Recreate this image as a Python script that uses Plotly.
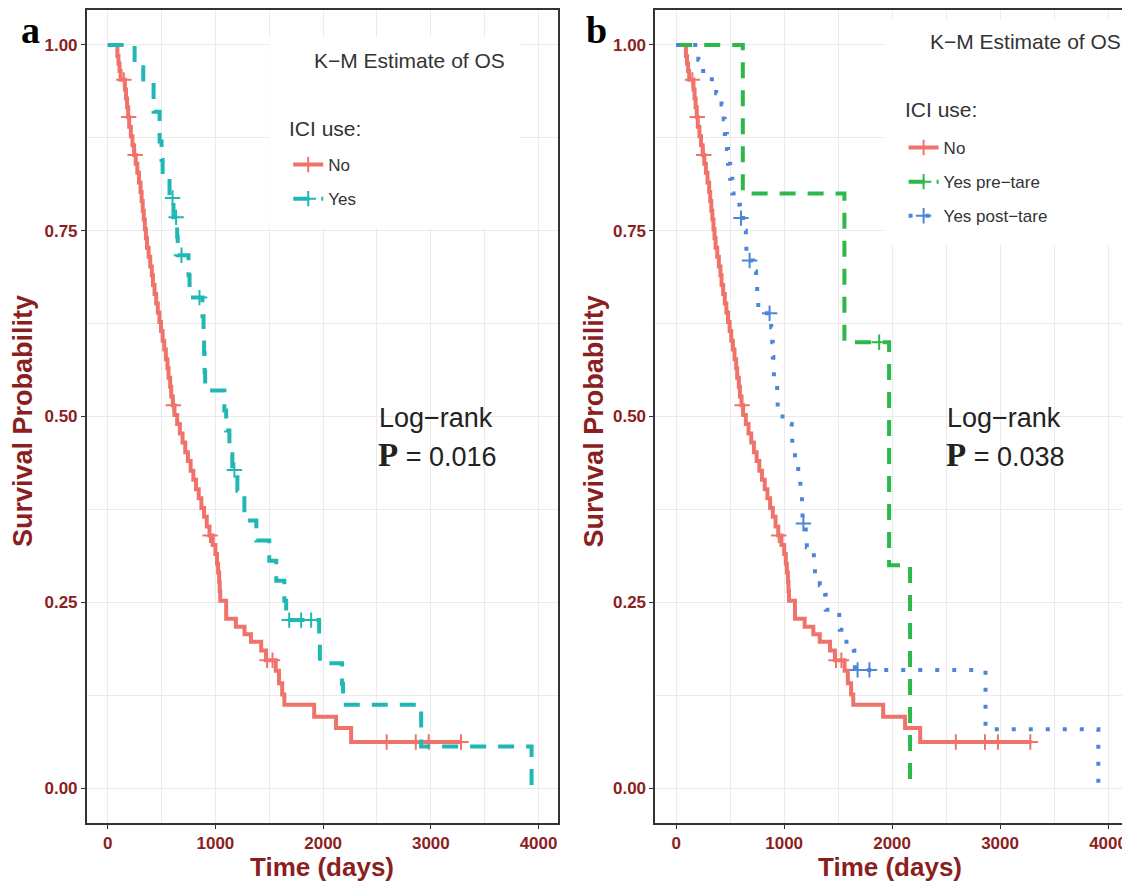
import plotly.graph_objects as go

# ---- data (time in days, survival probability) ----
no_time = [0, 90, 100, 110, 120, 160, 170, 180, 190, 200, 215, 230, 245, 260, 275, 290, 305, 315, 325, 335,
           345, 355, 365, 380, 395, 410, 420, 435, 450, 465, 480, 495, 510, 525, 540, 555, 565, 580, 590, 605,
           620, 645, 670, 695, 720, 745, 770, 795, 820, 845, 870, 895, 920, 945, 975, 1000, 1015, 1025, 1035, 1040,
           1045, 1100, 1190, 1270, 1330, 1425, 1470, 1560, 1590, 1620, 1640, 1917, 2120, 2260, 3290]
no_surv = [1.0, 0.985, 0.975, 0.965, 0.953, 0.94, 0.928, 0.916, 0.903, 0.89, 0.877, 0.865, 0.852, 0.84, 0.828,
           0.815, 0.802, 0.79, 0.777, 0.765, 0.752, 0.74, 0.727, 0.715, 0.702, 0.69, 0.677, 0.665, 0.652, 0.64,
           0.627, 0.615, 0.602, 0.59, 0.577, 0.565, 0.552, 0.54, 0.527, 0.515, 0.502, 0.49, 0.477, 0.465, 0.452,
           0.44, 0.427, 0.415, 0.402, 0.39, 0.377, 0.365, 0.352, 0.34, 0.327, 0.315, 0.302, 0.29, 0.277, 0.265,
           0.252, 0.228, 0.217, 0.207, 0.197, 0.185, 0.172, 0.158, 0.141, 0.126, 0.112, 0.096, 0.081, 0.062, 0.062]
no_cens_t = [150, 195, 255, 610, 950, 1480, 1530, 2590, 2860, 2980, 3280]
no_cens_s = [0.953, 0.903, 0.852, 0.515, 0.34, 0.172, 0.172, 0.062, 0.062, 0.062, 0.062]

yes_time = [0, 250, 330, 426, 482, 500, 510, 574, 611, 645, 650, 750, 760, 880, 890, 895, 900, 905, 1083, 1100,
            1130, 1157, 1204, 1269, 1380, 1500, 1565, 1640, 1657, 1963, 1970, 2176, 2185, 2910, 3935]
yes_surv = [1.0, 0.97, 0.946, 0.91, 0.87, 0.845, 0.82, 0.794, 0.768, 0.742, 0.717, 0.69, 0.66, 0.635, 0.61,
            0.585, 0.56, 0.535, 0.508, 0.481, 0.455, 0.428, 0.40, 0.36, 0.333, 0.306, 0.279, 0.252, 0.226,
            0.197, 0.168, 0.14, 0.112, 0.056, 0.0]
yes_cens_t = [602, 635, 685, 852, 1176, 1685, 1796, 1889]
yes_cens_s = [0.794, 0.768, 0.717, 0.66, 0.428, 0.226, 0.226, 0.226]

pre_time = [0, 617, 1558, 1972, 2166]
pre_surv = [1.0, 0.8, 0.6, 0.3, 0.0]
pre_cens_t = [1880]
pre_cens_s = [0.6]

post_time = [0, 205, 250, 330, 370, 420, 440, 450, 470, 480, 500, 520, 560, 590, 640, 645, 650, 710, 740, 750,
             760, 880, 890, 895, 900, 905, 935, 940, 985, 1070, 1075, 1100, 1130, 1150, 1165, 1170, 1200, 1210,
             1275, 1285, 1330, 1380, 1385, 1510, 1515, 1555, 1645, 1650, 1655, 2865, 3910]
post_surv = [1.0, 0.98, 0.965, 0.95, 0.935, 0.92, 0.9, 0.88, 0.86, 0.84, 0.82, 0.80, 0.785, 0.767, 0.75, 0.73,
             0.71, 0.695, 0.68, 0.66, 0.639, 0.62, 0.60, 0.58, 0.56, 0.546, 0.526, 0.505, 0.49, 0.475, 0.459,
             0.441, 0.421, 0.40, 0.383, 0.356, 0.345, 0.324, 0.31, 0.289, 0.273, 0.26, 0.24, 0.225, 0.213,
             0.197, 0.185, 0.166, 0.159, 0.079, 0.0]
post_cens_t = [600, 680, 865, 1178, 1680, 1790]
post_cens_s = [0.767, 0.71, 0.639, 0.356, 0.159, 0.159]

x_ticks = [0, 1000, 2000, 3000, 4000]
y_ticks = [0.0, 0.25, 0.5, 0.75, 1.0]

RED = "#F0736B"
TEAL = "#1FB8B5"
GREEN = "#2DB84B"
BLUE = "#4C86D8"
MAROON = "#8B1F1F"
TXT = "#333333"

# page has an 8px body margin, so the figure is drawn 8px smaller and coordinates are shifted
OFF = 8
W, H = 1130 - OFF, 882 - OFF


def px(x):
    return (x - OFF) / W


def py(y):
    return 1 - (y - OFF) / H


fig = go.Figure()


def add_curve(t, s, ct, cs, name, color, dash, xa, ya, legend):
    fig.add_trace(go.Scatter(x=t, y=s, mode="lines", line=dict(color=color, width=4, dash=dash, shape="hv"),
                             xaxis=xa, yaxis=ya, showlegend=False, hoverinfo="skip"))
    fig.add_trace(go.Scatter(x=ct, y=cs, mode="markers", xaxis=xa, yaxis=ya, showlegend=False,
                             marker=dict(symbol="cross-thin", size=11, line=dict(width=2, color=color))))
    # legend key (line + censor mark)
    fig.add_trace(go.Scatter(x=[None], y=[None], mode="lines+markers", name=name, legend=legend,
                             legendgroup=name + legend, xaxis=xa, yaxis=ya,
                             line=dict(color=color, width=4, dash=dash),
                             marker=dict(symbol="cross-thin", size=11, line=dict(width=2, color=color))))


DASH = "16px,12px"
DOT = "4px,13px"

add_curve(no_time, no_surv, no_cens_t, no_cens_s, "No", RED, "solid", "x", "y", "legend")
add_curve(yes_time, yes_surv, yes_cens_t, yes_cens_s, "Yes", TEAL, DASH, "x", "y", "legend")
add_curve(no_time, no_surv, no_cens_t, no_cens_s, "No", RED, "solid", "x2", "y2", "legend2")
add_curve(pre_time, pre_surv, pre_cens_t, pre_cens_s, "Yes pre−tare", GREEN, DASH, "x2", "y2", "legend2")
add_curve(post_time, post_surv, post_cens_t, post_cens_s, "Yes post−tare", BLUE, DOT, "x2", "y2", "legend2")

tickfont = dict(family="Liberation Sans", size=17, color=MAROON, weight="bold")
grid = dict(showgrid=True, gridcolor="#EBEBEB", gridwidth=1.3, zeroline=False,
            showline=True, mirror=True, linecolor="#333333", linewidth=1.6,
            ticks="outside", ticklen=4, tickwidth=1.4, tickcolor="#333333", tickfont=tickfont)
xminor = dict(dtick=500, tick0=0, showgrid=True, gridcolor="#EBEBEB", gridwidth=1.3)
yminor = dict(dtick=0.125, tick0=0, showgrid=True, gridcolor="#EBEBEB", gridwidth=1.3)
legend_style = dict(xanchor="left", yanchor="top", bgcolor="rgba(0,0,0,0)",
                    font=dict(size=17, color=TXT), tracegroupgap=9)

fig.update_layout(
    width=W, height=H,
    margin=dict(l=0, r=0, t=0, b=0),
    paper_bgcolor="white", plot_bgcolor="white",
    font=dict(family="Liberation Sans", color=TXT),
    xaxis=dict(domain=[px(87), px(559)], range=[-194, 4176], tickvals=x_ticks, anchor="y", minor=xminor, **grid),
    yaxis=dict(domain=[py(823), py(10)], range=[-0.047, 1.047], tickvals=y_ticks, tickformat=".2f",
               anchor="x", minor=yminor, **grid),
    xaxis2=dict(domain=[px(657), px(1127)], range=[-194, 4148], tickvals=x_ticks, anchor="y2", minor=xminor, **grid),
    yaxis2=dict(domain=[py(823), py(10)], range=[-0.047, 1.047], tickvals=y_ticks, tickformat=".2f",
                anchor="x2", minor=yminor, **grid),
    legend=dict(x=px(289), y=py(147), **legend_style),
    legend2=dict(x=px(906), y=py(130), **legend_style),
)

# white legend backgrounds hiding the grid
fig.add_shape(type="rect", xref="x", yref="y", x0=1500, x1=3833, y0=0.754, y1=1.011,
              fillcolor="white", line=dict(width=0), layer="between")
fig.add_shape(type="rect", xref="x2", yref="y2", x0=1931, x1=4148, y0=0.731, y1=1.034,
              fillcolor="white", line=dict(width=0), layer="between")


def note(text, x, y, font, xanchor="center", **kw):
    return dict(text=text, x=px(x), y=py(y), xref="paper", yref="paper", xanchor=xanchor, yanchor="middle",
                showarrow=False, font=font, **kw)


ann = []
title_font = dict(family="Liberation Sans", size=26, color=MAROON, weight="bold")
for cx in (323, 892):
    ann.append(note("Time (days)", cx, 867, title_font))
for cx in (23, 596):
    ann.append(note("Survival Probability", cx, 421, dict(title_font, size=27), textangle=-90))
for cx, cy in ((411, 60), (1028, 42)):
    ann.append(note("K−M Estimate of OS", cx, cy, dict(size=21, color=TXT)))
for lx, ly in ((288, 128), (905, 110)):
    ann.append(note("ICI use:", lx, ly, dict(size=21, color=TXT), xanchor="left"))
for lx, p in ((377, "0.016"), (947, "0.038")):
    ann.append(note("Log−rank", lx + 1, 418, dict(size=27, color="#222222"), xanchor="left"))
    ann.append(note('<span style="font-family:Liberation Serif;font-weight:bold;font-size:33px">P</span> = ' + p,
                    lx, 455, dict(size=27, color="#222222"), xanchor="left"))
for cx, lab in ((31, "a"), (598, "b")):
    ann.append(note(lab, cx, 30, dict(family="Liberation Serif", size=38, color="black", weight="bold")))
fig.update_layout(annotations=ann)

fig.write_html("out.html")
